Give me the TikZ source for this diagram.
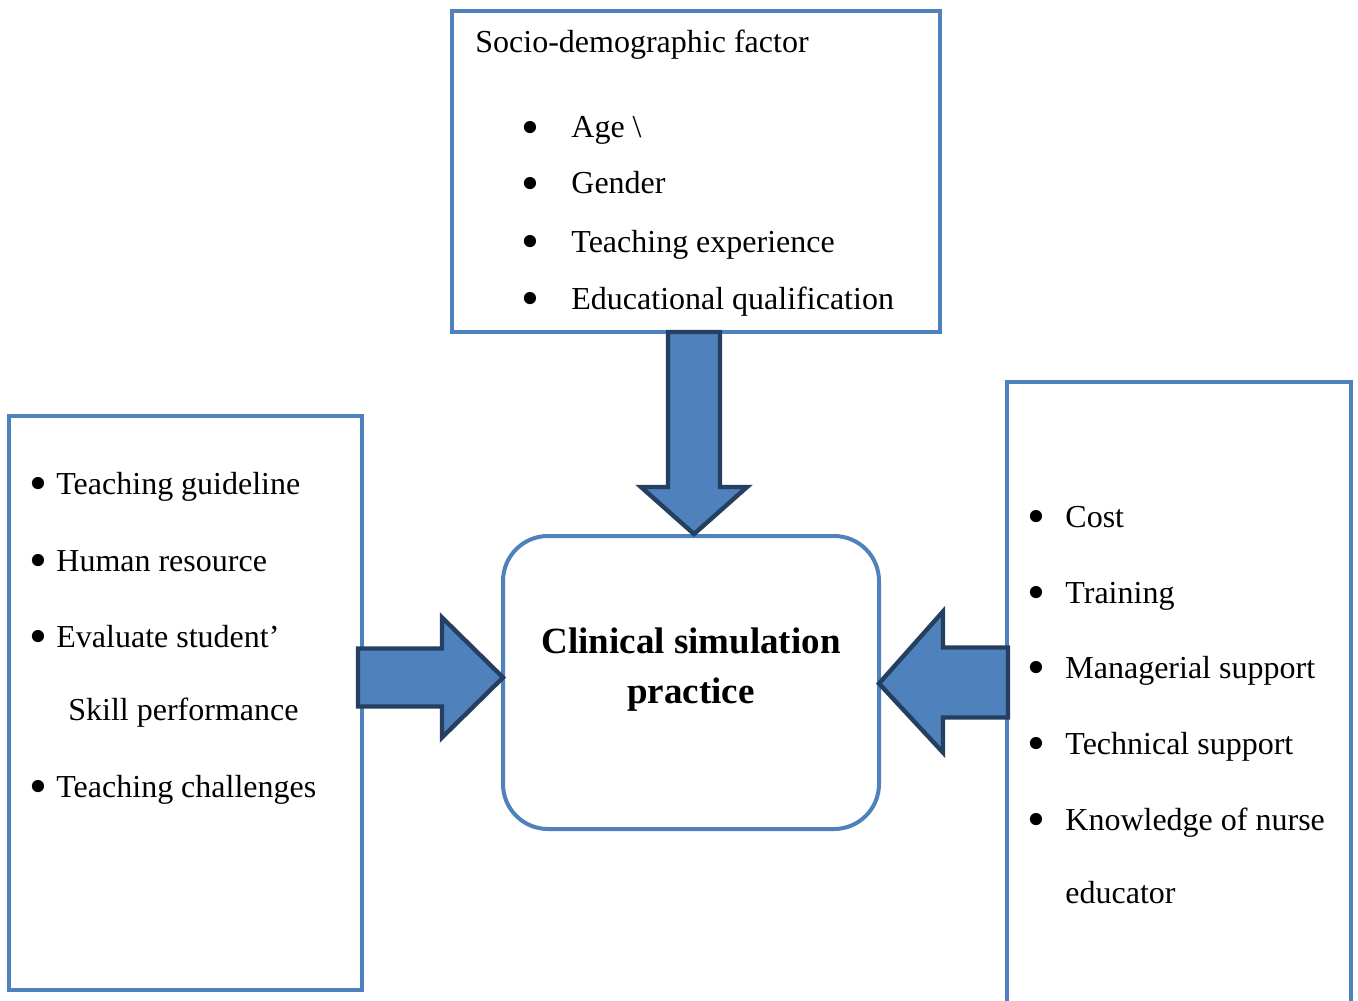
\documentclass[tikz,border=0pt]{standalone}
\usepackage{fontspec}
\setmainfont{Liberation Serif}
\usetikzlibrary{calc}
\definecolor{boxblue}{RGB}{79,129,189}
\definecolor{arrowedge}{RGB}{36,63,96}

\newcommand\bul[1]{\makebox[#1][l]{\raisebox{-0.19em}{\scalebox{1.6}{\textbullet}}}}

\begin{document}
\begin{tikzpicture}[x=0.5pt,y=-0.5pt,
  box/.style n args={2}{draw=boxblue,line width=2pt,rectangle,minimum width=#1,minimum height=#2,inner sep=0pt,outer sep=0pt},
  item/.style={anchor=base west,inner sep=0pt,font=\fontsize{16}{19}\selectfont},
  blockarrow/.style={draw=arrowedge,fill=boxblue,line width=2.2pt,line join=miter}]
\path[use as bounding box,fill=white] (0,0) rectangle (1358,1000);

% frames
\node[box={244pt}{160.5pt}] (socio) at (696,171.5) {};
\node[box={176.5pt}{287pt}] (school) at (185.5,703) {};
\node[box={172pt}{316pt}] (support) at (1179,698) {};
\node[box={188pt}{146.5pt},rounded corners=22.5pt] (clinical) at (691,682.5) {};

% base sits on the last line
\node[anchor=base,align=center,inner sep=0pt,font=\bfseries\fontsize{18.5}{25}\selectfont] (cltitle) at (691,703) {Clinical simulation\\practice};

% top list
\node[item] (soctitle) at (475,53) {Socio-demographic factor};
\foreach \y/\t in %
{138/Age \textbackslash,194/Gender,252/Teaching experience,309/Educational qualification} {
   \node[item] (soc-\y) at (521,\y) {\bul{25pt}\t};
}

% left list
\foreach \y/\t in %
{494/Teaching guideline,571/Human resource,647/Evaluate student’,797/Teaching challenges} {
   \node[item] (sch-\y) at (29,\y) {\bul{13.5pt}\t};
}
\node[item] (sch-720) at (68,720) {Skill performance};

% right list
\foreach \y/\t in %
{527/Cost,603/Training,678/Managerial support,754/Technical support,830/Knowledge of nurse} {
   \node[item] (sup-\y) at (1027,\y) {\bul{19pt}\t};
}
\node[item] (sup-903) at (1065,903) {educator};

% block arrows into the centre
\draw[blockarrow] (clinical.north) ++(3,-2) -- ++(-53,-47) -- ++(27,0) -- ++(0,-155)
   -- ++(52,0) -- ++(0,155) -- ++(27,0) -- cycle;
\draw[blockarrow] (clinical.west) ++(0,-5) -- ++(-61,-60) -- ++(0,31) -- ++(-84,0)
   -- ++(0,58) -- ++(84,0) -- ++(0,31) -- cycle;
\draw[blockarrow] (clinical.east) ++(0,1) -- ++(64,-72) -- ++(0,36) -- ++(65,0)
   -- ++(0,70) -- ++(-65,0) -- ++(0,35) -- cycle;
\end{tikzpicture}
\end{document}
